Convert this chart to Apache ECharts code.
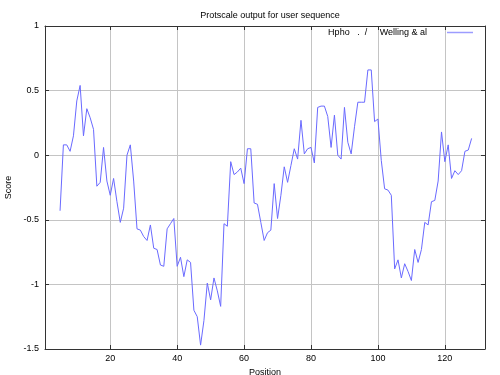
<!DOCTYPE html>
<html>
<head>
<meta charset="utf-8">
<script src="https://cdn.jsdelivr.net/npm/echarts@6/dist/echarts.min.js"></script>
<style>html,body{margin:0;padding:0;background:#fff;}#c{width:500px;height:375px;}</style>
</head>
<body>
<div id="c"></div>
<script>
const titleText = 'Protscale output for user sequence';
const seriesName = 'Hpho   .  /     Welling & al';
const xAxisName = 'Position';
const yAxisName = 'Score';
const startPosition = 5;
const scores = [
  -0.43, 0.08, 0.08, 0.03, 0.15, 0.42, 0.54, 0.15, 0.36, 0.29,
  0.2, -0.24, -0.21, 0.06, -0.2, -0.31, -0.18, -0.36, -0.52, -0.41,
  0.0, 0.08, -0.2, -0.57, -0.58, -0.63, -0.66, -0.54, -0.72, -0.73,
  -0.85, -0.86, -0.57, -0.53, -0.49, -0.86, -0.79, -0.94, -0.81, -0.83,
  -1.2, -1.25, -1.47, -1.28, -0.99, -1.12, -0.95, -1.05, -1.17, -0.53,
  -0.55, -0.05, -0.15, -0.13, -0.1, -0.22, 0.05, 0.05, -0.37, -0.38,
  -0.52, -0.66, -0.6, -0.58, -0.22, -0.49, -0.31, -0.09, -0.21, -0.08,
  0.05, -0.03, 0.27, 0.01, 0.05, 0.06, -0.06, 0.37, 0.38, 0.38,
  0.3, 0.06, 0.31, 0.0, -0.03, 0.37, 0.1, 0.01, 0.22, 0.41,
  0.41, 0.41, 0.66, 0.66, 0.26, 0.28, -0.04, -0.26, -0.27, -0.31,
  -0.88, -0.81, -0.95, -0.84, -0.9, -0.97, -0.73, -0.83, -0.73, -0.52,
  -0.54, -0.36, -0.35, -0.2, 0.18, -0.05, 0.08, -0.18, -0.12, -0.15,
  -0.12, 0.03, 0.04, 0.13
];
const xTickValues = [20, 40, 60, 80, 100, 120];
const xMin = 0.5, xMax = 132;
const yMin = -1.5, yMax = 1, yStep = 0.5;

const data = scores.map((v, i) => [startPosition + i, v]);
const font = 'Liberation Sans, Arial, sans-serif';
const frame = {show: true, onZero: false, lineStyle: {color: '#333', width: 1}};
const tick = {show: true, inside: true, length: 4, lineStyle: {color: '#333'}};
const grid = {show: true, lineStyle: {color: '#c4c4c4', width: 1}};

const chart = echarts.init(document.getElementById('c'), null, {renderer: 'canvas'});
chart.setOption({
  animation: false,
  backgroundColor: '#fff',
  title: {
    text: titleText, left: 265, top: 6, textAlign: 'center',
    textStyle: {fontFamily: font, fontSize: 9, fontWeight: 'normal', color: '#000'}
  },
  legend: {
    right: 27, top: 28, padding: 0, align: 'right',
    itemWidth: 26, itemHeight: 14,
    textStyle: {fontFamily: font, fontSize: 9, color: '#000', padding: [0, 15, 0, 0]},
    data: [{name: seriesName, icon: 'path://M0,0L26,0L26,1.5L0,1.5Z', itemStyle: {color: '#9c9cff'}}]
  },
  grid: {left: 45, right: 15, top: 26, bottom: 26, outerBoundsMode: 'none', containLabel: false},
  xAxis: [{
    type: 'value', min: xMin, max: xMax, position: 'bottom',
    name: xAxisName, nameLocation: 'middle', nameGap: 17,
    nameTextStyle: {fontFamily: font, fontSize: 9, color: '#000'},
    axisLine: frame,
    axisTick: Object.assign({customValues: xTickValues}, tick),
    axisLabel: {customValues: xTickValues, fontFamily: font, fontSize: 9, color: '#000', margin: 5},
    splitLine: grid
  }, {
    type: 'value', min: xMin, max: xMax, position: 'top',
    axisLine: frame,
    axisTick: Object.assign({customValues: xTickValues}, tick),
    axisLabel: {show: false}, splitLine: {show: false}
  }],
  yAxis: [{
    type: 'value', min: yMin, max: yMax, interval: yStep, position: 'left',
    name: yAxisName, nameLocation: 'middle', nameGap: 31, nameRotate: 90,
    nameTextStyle: {fontFamily: font, fontSize: 9, color: '#000'},
    axisLine: frame, axisTick: tick,
    axisLabel: {fontFamily: font, fontSize: 9, color: '#000', margin: 6},
    splitLine: grid
  }, {
    type: 'value', min: yMin, max: yMax, interval: yStep, position: 'right',
    axisLine: frame, axisTick: tick,
    axisLabel: {show: false}, splitLine: {show: false}
  }],
  series: [{
    name: seriesName, type: 'line', data: data,
    xAxisIndex: 0, yAxisIndex: 0,
    showSymbol: false, symbol: 'none',
    lineStyle: {color: '#6a6aff', width: 1},
    itemStyle: {color: '#6a6aff'}
  }]
});
</script>
</body>
</html>
